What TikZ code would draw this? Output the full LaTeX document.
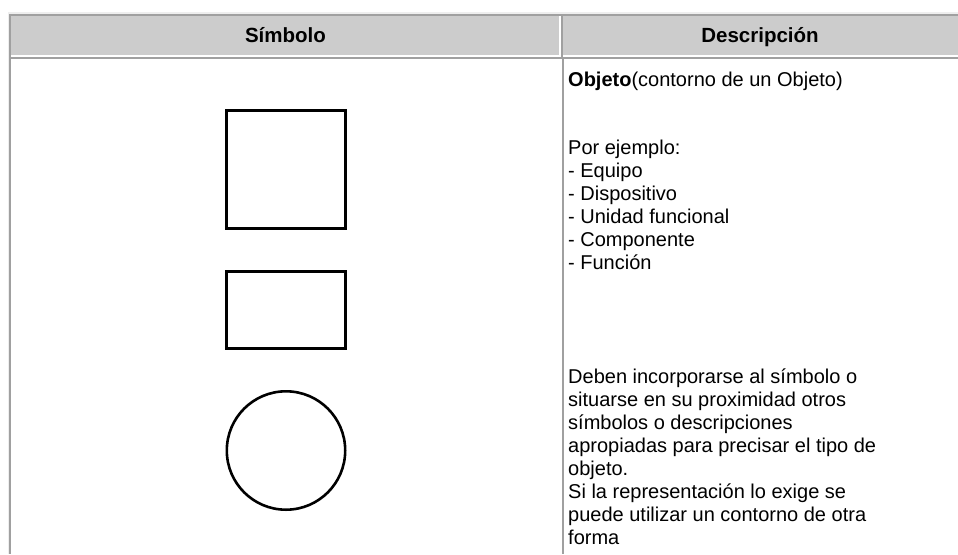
\documentclass[tikz,border=0pt]{standalone}
\usepackage{fontspec}
\setmainfont{Liberation Sans}
\usetikzlibrary{positioning}
\definecolor{headgray}{HTML}{CCCCCC}
\definecolor{rulegray}{HTML}{A0A0A0}
\definecolor{rulelight}{HTML}{EEEEEE}

\begin{document}
\begin{tikzpicture}[x=1pt,y=-1pt,
  sym/.style={draw, line width=2.6pt, inner sep=0pt},
  head/.style={font=\fontsize{20.5}{24}\selectfont\bfseries, anchor=base, inner sep=0pt},
  desc/.style={font=\fontsize{20}{22.9}\selectfont, align=left, anchor=north west, inner sep=0pt}]
\useasboundingbox (0,0) rectangle (958,554);
\fill[white] (0,0) rectangle (958,554);
\fill[rulelight] (8,12) rectangle (958,554);
\fill[rulegray] (9,13.5) rectangle (958,554);
\fill[white] (10.5,15.5) rectangle (560.5,56.5);
\fill[headgray] (10.5,15.5) rectangle (559,55);
\fill[white] (562.5,15.5) rectangle (958,56.5);
\fill[headgray] (562.5,15.5) rectangle (958,55);
\fill[white] (10.5,58.5) rectangle (562,554);
\fill[white] (564,58.5) rectangle (958,554);
\node[head] (hsym) at (285.5,42.5) {Símbolo};
\node[head] (hdesc) at (760,42.5) {Descripción};
\node[sym, minimum width=119.4pt, minimum height=118.4pt] (square) at (286,169.5) {};
\node[sym, minimum width=119.4pt, minimum height=77.4pt] (rect) at (286,310) {};
\node[sym, circle, minimum size=118.4pt] (circ) at (286,450.5) {};
\node[desc] (text) at (568,70) {\strut\textbf{Objeto}(contorno de un Objeto)\\[45.8pt]
  Por ejemplo:\\
  - Equipo\\
  - Dispositivo\\
  - Unidad funcional\\
  - Componente\\
  - Función\\[91.6pt]
  Deben incorporarse al símbolo o\\
  situarse en su proximidad otros\\
  símbolos o descripciones\\
  apropiadas para precisar el tipo de\\
  objeto.\\
  Si la representación lo exige se\\
  puede utilizar un contorno de otra\\
  forma};
\end{tikzpicture}
\end{document}
